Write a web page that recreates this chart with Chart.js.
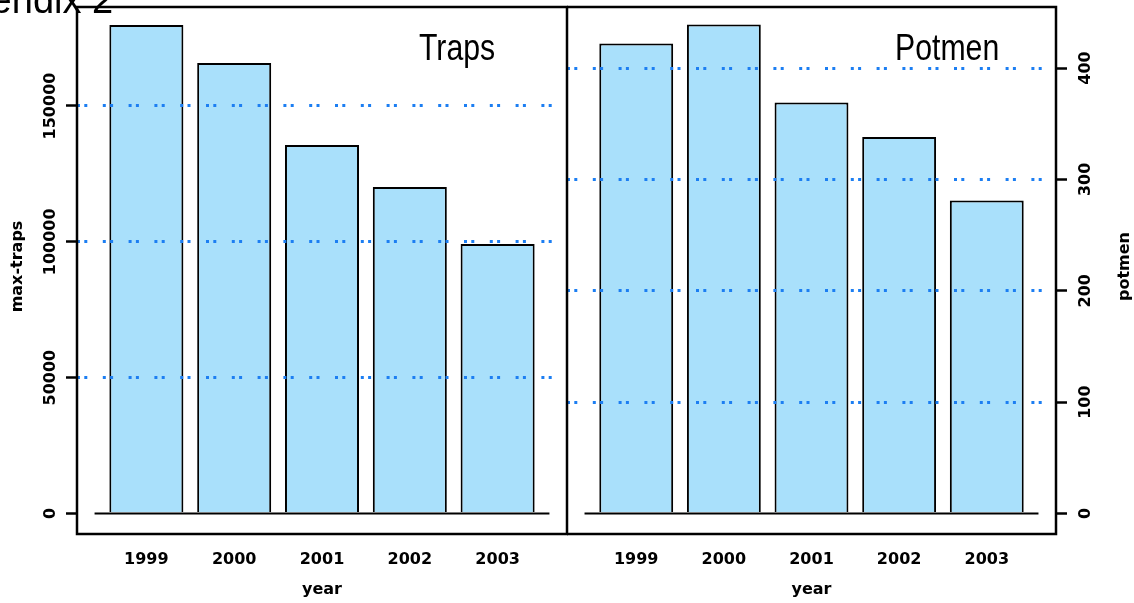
<!DOCTYPE html>
<html>
<head>
<meta charset="utf-8">
<script src="https://cdn.jsdelivr.net/npm/chart.js@4"></script>
<style>
  body { margin: 0; background: #fff; }
  .panel { position: absolute; top: 0; height: 603px; }
</style>
</head>
<body>
<div class="panel" style="left:0; width:568px;"><canvas id="graficoTraps"></canvas></div>
<div class="panel" style="left:567px; width:567px;"><canvas id="graficoPotmen"></canvas></div>
<script>
// Datos
const anios = [1999, 2000, 2001, 2002, 2003];
const maxTraps = [179800, 165800, 135600, 120200, 99200];
const potmen = [422, 439, 369, 338, 281];
const ticksTraps = [0, 50000, 100000, 150000];
const ticksPotmen = [0, 100, 200, 300, 400];

const AZUL_BARRA = '#A9E0FB';
const AZUL_PUNTOS = '#1C7EF2';
const PUNTEADO = [3, 4.3, 3, 15.5];
const fuenteEje = { family: 'DejaVu Sans', size: 16, weight: 'bold' };

// Marco, línea de cero, etiquetas giradas y títulos
const pluginMarco = {
    id: 'marco',
    afterDraw(chart, args, opts) {
        const { ctx, chartArea: a, scales: { x, y } } = chart;
        ctx.save();
        ctx.strokeStyle = '#000';
        ctx.lineWidth = 2;

        // línea de cero
        const y0 = y.getPixelForValue(0);
        ctx.beginPath();
        ctx.moveTo(x.getPixelForValue(anios[0] - 0.59), y0);
        ctx.lineTo(x.getPixelForValue(anios[anios.length - 1] + 0.59), y0);
        ctx.stroke();

        // marco del panel
        ctx.lineWidth = 2.5;
        ctx.strokeRect(a.left, a.top, a.right - a.left, a.bottom - a.top);

        // etiquetas del eje y (giradas)
        ctx.fillStyle = '#000';
        ctx.font = 'bold 16px "DejaVu Sans"';
        ctx.textAlign = 'center';
        ctx.textBaseline = 'middle';
        y.ticks.forEach(t => {
            ctx.save();
            ctx.translate(opts.xEtiquetas, y.getPixelForValue(t.value));
            ctx.rotate(-Math.PI / 2);
            ctx.fillText(String(t.value), 0, 0);
            ctx.restore();
        });

        // título del eje y
        ctx.save();
        ctx.translate(opts.xTituloEje, (a.top + a.bottom) / 2 - 4);
        ctx.rotate(-Math.PI / 2);
        ctx.fillText(opts.tituloEje, 0, 0);
        ctx.restore();

        // título del panel
        ctx.font = '36px "Liberation Sans", Arial, sans-serif';
        ctx.textAlign = 'left';
        ctx.textBaseline = 'alphabetic';
        ctx.save();
        ctx.translate(opts.xTitulo, 60);
        ctx.scale(0.84, 1);
        ctx.fillText(opts.titulo, 0, 0);
        ctx.restore();

        if (opts.encabezado) {
            ctx.font = '38px "Liberation Sans", Arial, sans-serif';
            ctx.fillText(opts.encabezado, -77, 13);
        }
        ctx.restore();
    }
};

function crearPanel(idCanvas, valores, ticksY, rangoY, op) {
    const ctx = document.getElementById(idCanvas).getContext('2d');
    return new Chart(ctx, {
        type: 'bar',
        data: {
            datasets: [{
                data: anios.map((a, i) => ({ x: a, y: valores[i] })),
                backgroundColor: AZUL_BARRA,
                borderColor: '#000',
                borderWidth: 2,
                categoryPercentage: 1,
                barPercentage: 0.843
            }]
        },
        options: {
            responsive: true,
            maintainAspectRatio: false,
            animation: false,
            layout: { padding: op.padding },
            plugins: {
                legend: { display: false },
                tooltip: { enabled: false },
                marco: op.marco
            },
            scales: {
                x: {
                    type: 'linear',
                    position: 'bottom',
                    offset: false,
                    min: 1998.21,
                    max: 2003.79,
                    afterBuildTicks: s => { s.ticks = anios.map(v => ({ value: v })); },
                    afterFit: s => { s.height = 69; },
                    grid: { display: false, drawTicks: false, offset: false },
                    border: { display: false },
                    ticks: {
                        callback: v => String(v),
                        font: fuenteEje,
                        color: '#000',
                        padding: 16,
                        maxRotation: 0
                    },
                    title: {
                        display: true,
                        text: 'year',
                        font: fuenteEje,
                        color: '#000',
                        padding: { top: 0, bottom: 4 }
                    }
                },
                y: {
                    position: op.lado,
                    min: rangoY[0],
                    max: rangoY[1],
                    z: 1,
                    afterBuildTicks: s => { s.ticks = ticksY.map(v => ({ value: v })); },
                    afterFit: s => { s.width = op.anchoEje; },
                    ticks: { display: false },
                    grid: {
                        z: 1,
                        color: c => (c.tick && c.tick.value === 0) ? 'rgba(0,0,0,0)' : AZUL_PUNTOS,
                        lineWidth: 3,
                        borderDash: PUNTEADO,
                        tickColor: '#000',
                        tickWidth: 2.5,
                        tickLength: 11,
                        tickBorderDash: []
                    },
                    border: { display: false, dash: PUNTEADO }
                }
            }
        },
        plugins: [pluginMarco]
    });
}

crearPanel('graficoTraps', maxTraps, ticksTraps, [-7550, 186440], {
    lado: 'left',
    anchoEje: 77,
    padding: { left: 0, right: 1, top: 7, bottom: 0 },
    marco: { xEtiquetas: 50.5, xTituloEje: 17.5, tituloEje: 'max-traps', titulo: 'Traps', xTitulo: 419, encabezado: 'Appendix 2' }
});

crearPanel('graficoPotmen', potmen, ticksPotmen, [-18.4, 454.8], {
    lado: 'right',
    anchoEje: 78,
    padding: { left: 0, right: 0, top: 7, bottom: 0 },
    marco: { xEtiquetas: 519, xTituloEje: 558, tituloEje: 'potmen', titulo: 'Potmen', xTitulo: 328 }
});
</script>
</body>
</html>
